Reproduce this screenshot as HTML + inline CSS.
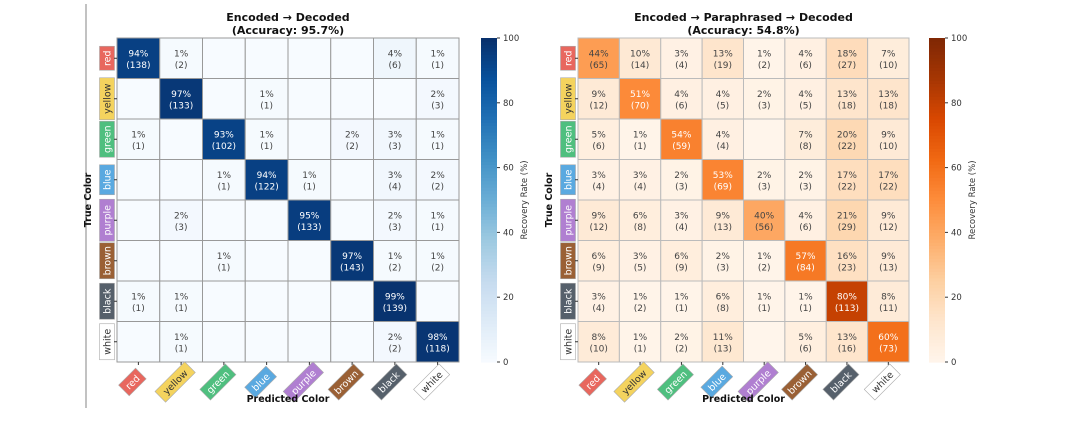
<!DOCTYPE html>
<html><head><meta charset="utf-8"><style>
body{margin:0;background:#fff;width:1080px;height:419px;overflow:hidden}
svg{font-family:"DejaVu Sans","Liberation Sans",sans-serif}
</style></head><body>
<svg id="s" width="1080" height="419"></svg>
<script>
const categories=["red","yellow","green","blue","purple","brown","black","white"];
const labelColors=["#e8675e","#f4d35e","#4fbf7f","#5aa9e0","#b07fd1","#9a6035","#56606b","#ffffff"];
const labelText=["#fff","#333","#fff","#fff","#fff","#fff","#fff","#333"];
const leftPct=[[94,1,0,0,0,0,4,1],[0,97,0,1,0,0,0,2],[1,0,93,1,0,2,3,1],[0,0,1,94,1,0,3,2],[0,2,0,0,95,0,2,1],[0,0,1,0,0,97,1,1],[1,1,0,0,0,0,99,0],[0,1,0,0,0,0,2,98]];
const leftCnt=[[138,2,0,0,0,0,6,1],[0,133,0,1,0,0,0,3],[1,0,102,1,0,2,3,1],[0,0,1,122,1,0,4,2],[0,3,0,0,133,0,3,1],[0,0,1,0,0,143,2,2],[1,1,0,0,0,0,139,0],[0,1,0,0,0,0,2,118]];
const rightPct=[[44,10,3,13,1,4,18,7],[9,51,4,4,2,4,13,13],[5,1,54,4,0,7,20,9],[3,3,2,53,2,2,17,17],[9,6,3,9,40,4,21,9],[6,3,6,2,1,57,16,9],[3,1,1,6,1,1,80,8],[8,1,2,11,0,5,13,60]];
const rightCnt=[[65,14,4,19,2,6,27,10],[12,70,6,5,3,5,18,18],[6,1,59,4,0,8,22,10],[4,4,3,69,3,3,22,22],[12,8,4,13,56,6,29,12],[9,5,9,3,2,84,23,13],[4,2,1,8,1,1,113,11],[10,1,2,13,0,6,16,73]];
const cbTicks=[0,20,40,60,80,100];
const blues=["#f7fbff","#deebf7","#c6dbef","#9ecae1","#6baed6","#4292c6","#2171b5","#08519c","#08306b"];
const oranges=["#fff5eb","#fee6ce","#fdd0a2","#fdae6b","#fd8d3c","#f16913","#d94801","#a63603","#7f2704"];
function cmap(st,v){v=Math.max(0,Math.min(1,v));const p=v*(st.length-1),i=Math.min(Math.floor(p),st.length-2),f=p-i;
const a=st[i],b=st[i+1];const c=k=>Math.round(parseInt(a.substr(k,2),16)*(1-f)+parseInt(b.substr(k,2),16)*f);
return `rgb(${c(1)},${c(3)},${c(5)})`;}
const S=document.getElementById('s');const NS="http://www.w3.org/2000/svg";
function el(t,a,p){const e=document.createElementNS(NS,t);for(const k in a)e.setAttribute(k,a[k]);(p||S).appendChild(e);return e;}
function txt(x,y,s,a,p){const e=el('text',Object.assign({x:x,y:y,'text-anchor':'middle'},a),p);e.textContent=s;return e;}
el('line',{x1:86,y1:4,x2:86,y2:408,stroke:'#999','stroke-width':1.2});
function heat(name,x0,y0,w,h,pct,cnt,st,cbx,title1,title2,lineCol,ytx){
  const g=el('g',{});
  
  
  const cw=w/8,ch=h/8;
  const xs=i=>x0+i*cw, ys=j=>y0+j*ch;
  txt(x0+w/2,21,title1,{'font-size':11,'font-weight':'bold',fill:'#111'},g);
  txt(x0+w/2,34,title2,{'font-size':11,'font-weight':'bold',fill:'#111'},g);
  for(let r=0;r<8;r++)for(let c=0;c<8;c++){
    const v=pct[r][c];
    const rc=el('rect',{x:xs(c),y:ys(r),width:cw,height:ch,fill:cmap(st,v/100),stroke:lineCol,'stroke-width':1},g);
    
    
    if(v>0){const col=v>=50?'#fff':'#444';
      txt(xs(c)+cw/2,ys(r)+ch/2-2,v+'%',{'font-size':9,fill:col},g);
      txt(xs(c)+cw/2,ys(r)+ch/2+9.5,'('+cnt[r][c]+')',{'font-size':9,fill:col},g);}
  }
  for(let i=0;i<8;i++){
    const cy=ys(i)+ch/2,len=categories[i].length*6+6;
    const yg=el('g',{transform:`translate(${x0-10},${cy}) rotate(-90)`},g);
    
    
    el('rect',{x:-len/2,y:-7.5,width:len,height:15,fill:labelColors[i],stroke:'#aaa','stroke-width':0.6},yg);
    txt(0,3.5,categories[i],{'font-size':9.5,fill:labelText[i]},yg);
    el('line',{x1:x0-3,y1:cy,x2:x0,y2:cy,stroke:'#333'},g);
    const cx=xs(i)+cw/2;
    el('line',{x1:cx,y1:y0+h,x2:cx,y2:y0+h+3,stroke:'#333'},g);
    const xg=el('g',{transform:`translate(${cx-6},${y0+h+20}) rotate(-45)`},g);
    
    
    el('rect',{x:-len/2,y:-7.5,width:len,height:15,fill:labelColors[i],stroke:'#aaa','stroke-width':0.6},xg);
    txt(0,3.5,categories[i],{'font-size':9.5,fill:labelText[i]},xg);
  }
  const yt=txt(0,0,'True Color',{'font-size':9.5,'font-weight':'bold',fill:'#111',transform:`translate(${ytx},${y0+h/2}) rotate(-90)`},g);
  
  const xt=txt(x0+w/2,402,'Predicted Color',{'font-size':9.5,'font-weight':'bold',fill:'#111'},g);
  
  const cb=el('g',{},g);
  
  
  for(let k=0;k<100;k++) el('rect',{x:cbx,y:y0+h-(k+1)*h/100,width:16,height:h/100+0.6,fill:cmap(st,(k+0.5)/100)},cb);
  cbTicks.forEach(t=>{const y=y0+h-t/100*h;el('line',{x1:cbx+16,y1:y,x2:cbx+19,y2:y,stroke:'#333'},cb);
    txt(cbx+22,y+3,String(t),{'font-size':8.5,fill:'#333','text-anchor':'start'},cb);});
  txt(0,0,'Recovery Rate (%)',{'font-size':8.5,fill:'#333',transform:`translate(${cbx+46},${y0+h/2}) rotate(-90)`},cb);
}
heat('heatmap-encoded-decoded',117,38,342,324,leftPct,leftCnt,blues,481,'Encoded → Decoded','(Accuracy: 95.7%)','#999',91);
heat('heatmap-paraphrased',578,38,331,324,rightPct,rightCnt,oranges,929,'Encoded → Paraphrased → Decoded','(Accuracy: 54.8%)','#bbb',552);
</script></body></html>
